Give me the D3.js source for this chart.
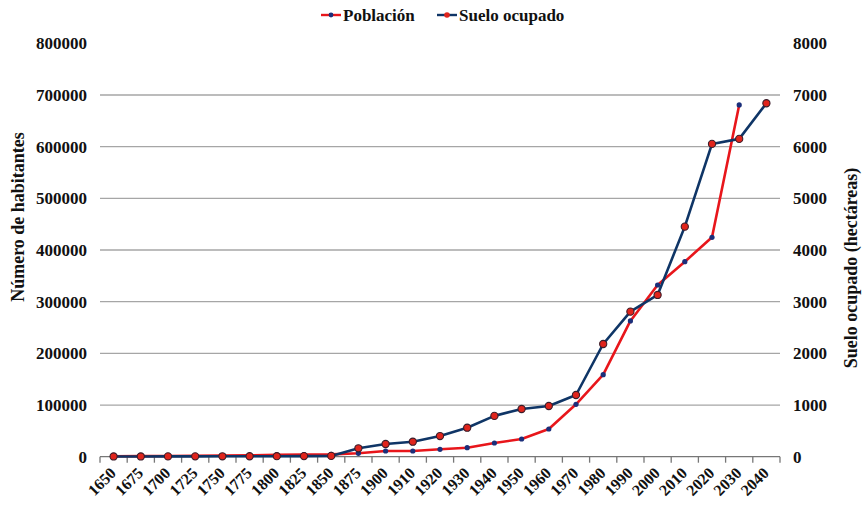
<!DOCTYPE html>
<html>
<head>
<meta charset="utf-8">
<script src="https://cdn.jsdelivr.net/npm/d3@7"></script>
<style>
  body { margin: 0; background: #fff; }
  svg text { font-family: "Liberation Serif", "Times New Roman", serif !important; font-weight: bold; }
</style>
</head>
<body>
<div id="chart"></div>
<script>
const years = ['1650', '1675', '1700', '1725', '1750', '1775', '1800', '1825', '1850', '1875',
  '1900', '1910', '1920', '1930', '1940', '1950', '1960', '1970', '1980', '1990',
  '2000', '2010', '2020', '2030', '2040']

// Población (habitantes), eje izquierdo
const poblacion = [1000, 1200, 1500, 1800, 2000, 2500, 3500, 4000, 4500, 6600,
  11000, 11000, 14300, 17400, 26500, 34300, 53600, 101400, 158700, 262700,
  332300, 377400, 424600, 680700, null]

// Suelo ocupado (hectáreas), eje derecho
const suelo = [5, 5, 6, 7, 8, 9, 10, 12, 15, 163,
  246, 290, 400, 561, 790, 923, 981, 1194, 2181, 2807,
  3130, 4452, 6053, 6150, 6840]

const leftTicks = [0, 100000, 200000, 300000, 400000, 500000, 600000, 700000, 800000]
const rightTicks = [0, 1000, 2000, 3000, 4000, 5000, 6000, 7000, 8000]

const width = 863
const height = 507
const margin = { top: 43.3, right: 83, bottom: 50.3, left: 100 }
const red = '#e8161b'
const navy = '#0f3566'
const font = '"Liberation Serif", "Times New Roman", serif'

const svg = d3.select('#chart')
  .append('svg')
  .attr('width', width)
  .attr('height', height)
  .attr('font-family', font)

const xScale = d3.scaleBand()
  .domain(years)
  .range([margin.left, width - margin.right])

const yLeft = d3.scaleLinear()
  .domain([0, 800000])
  .range([height - margin.bottom, margin.top])

const yRight = d3.scaleLinear()
  .domain([0, 8000])
  .range([height - margin.bottom, margin.top])

const cx = d => xScale(d) + xScale.bandwidth() / 2

// gridlines (no line at the top)
svg.append('g')
  .selectAll('line')
  .data(leftTicks.filter(t => t > 0 && t < 800000))
  .join('line')
  .attr('x1', margin.left)
  .attr('x2', width - margin.right)
  .attr('y1', d => yLeft(d))
  .attr('y2', d => yLeft(d))
  .attr('stroke', '#a6a6a6')
  .attr('stroke-width', 1.3)

const styleTicks = g => g.selectAll('text')
  .attr('font-size', 17)
  .attr('font-family', font)
  .attr('font-weight', 'bold')
  .attr('fill', '#111')

const yAxisLeft = g => g
  .attr('transform', `translate(${margin.left},0)`)
  .call(d3.axisLeft(yLeft).tickValues(leftTicks).tickSize(0).tickPadding(13).tickFormat(d3.format('d')))
  .attr('font-family', font)
  .call(g => g.select('.domain').remove())
  .call(styleTicks)

const yAxisRight = g => g
  .attr('transform', `translate(${width - margin.right},0)`)
  .call(d3.axisRight(yRight).tickValues(rightTicks).tickSize(0).tickPadding(13).tickFormat(d3.format('d')))
  .attr('font-family', font)
  .call(g => g.select('.domain').remove())
  .call(styleTicks)

svg.append('g').call(yAxisLeft)
svg.append('g').call(yAxisRight)

// x axis: ticks on category boundaries
const xAxisY = height - margin.bottom
const xg = svg.append('g')
xg.append('line')
  .attr('x1', margin.left).attr('x2', width - margin.right)
  .attr('y1', xAxisY).attr('y2', xAxisY)
  .attr('stroke', '#777').attr('stroke-width', 1.3)
xg.selectAll('line.tick')
  .data(years.concat(['end']))
  .join('line')
  .attr('class', 'tick')
  .attr('x1', (d, i) => margin.left + i * xScale.bandwidth())
  .attr('x2', (d, i) => margin.left + i * xScale.bandwidth())
  .attr('y1', xAxisY).attr('y2', xAxisY + 6)
  .attr('stroke', '#777').attr('stroke-width', 1.3)
xg.selectAll('text')
  .data(years)
  .join('text')
  .attr('transform', d => `translate(${cx(d) - 4.5},${xAxisY + 9.5}) rotate(-45)`)
  .attr('text-anchor', 'end')
  .attr('dy', '0.7em')
  .attr('font-size', 16)
  .attr('font-weight', 'bold')
  .attr('fill', '#111')
  .text(d => d)

// axis titles
svg.append('text')
  .attr('transform', `translate(24,217) rotate(-90)`)
  .attr('text-anchor', 'middle')
  .attr('font-size', 18)
  .attr('font-weight', 'bold')
  .attr('fill', '#111')
  .text('Número de habitantes')

svg.append('text')
  .attr('transform', `translate(857,268) rotate(-90)`)
  .attr('text-anchor', 'middle')
  .attr('font-size', 18)
  .attr('font-weight', 'bold')
  .attr('fill', '#111')
  .text('Suelo ocupado (hectáreas)')

const popData = years.map((y, i) => ({ year: y, value: poblacion[i] })).filter(d => d.value != null)
const sueloData = years.map((y, i) => ({ year: y, value: suelo[i] })).filter(d => d.value != null)

const popLine = d3.line()
  .x(d => cx(d.year))
  .y(d => yLeft(d.value))

const sueloLine = d3.line()
  .x(d => cx(d.year))
  .y(d => yRight(d.value))

svg.append('path')
  .datum(popData)
  .attr('fill', 'none')
  .attr('stroke', red)
  .attr('stroke-width', 2.6)
  .attr('stroke-linejoin', 'round')
  .attr('d', popLine)

svg.append('g')
  .selectAll('circle')
  .data(popData)
  .join('circle')
  .attr('cx', d => cx(d.year))
  .attr('cy', d => yLeft(d.value))
  .attr('r', 2.6)
  .attr('fill', '#1b2f7a')

svg.append('path')
  .datum(sueloData)
  .attr('fill', 'none')
  .attr('stroke', navy)
  .attr('stroke-width', 2.6)
  .attr('stroke-linejoin', 'round')
  .attr('d', sueloLine)

svg.append('g')
  .selectAll('circle')
  .data(sueloData)
  .join('circle')
  .attr('cx', d => cx(d.year))
  .attr('cy', d => yRight(d.value))
  .attr('r', 3.6)
  .attr('fill', '#e0241c')
  .attr('stroke', '#3a1d2a')
  .attr('stroke-width', 1.1)

// legend
const legendItems = [
  { label: 'Población', line: red, dot: '#1b2f7a', r: 2.4, x: 321 },
  { label: 'Suelo ocupado', line: navy, dot: '#e0241c', r: 2.8, x: 437 }
]
const legend = svg.append('g')
legendItems.forEach(item => {
  legend.append('line')
    .attr('x1', item.x).attr('x2', item.x + 20)
    .attr('y1', 15).attr('y2', 15)
    .attr('stroke', item.line).attr('stroke-width', 2.4)
  legend.append('circle')
    .attr('cx', item.x + 10).attr('cy', 15).attr('r', item.r)
    .attr('fill', item.dot)
  legend.append('text')
    .attr('x', item.x + 22).attr('y', 15)
    .attr('dy', '0.35em')
    .attr('font-size', 17)
    .attr('font-weight', 'bold')
    .attr('fill', '#111')
    .text(item.label)
})
</script>
</body>
</html>
